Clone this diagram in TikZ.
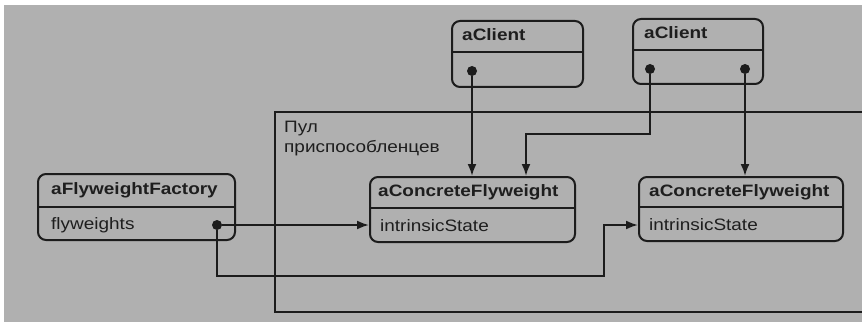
\documentclass[tikz,border=0pt]{standalone}
\usepackage{fontspec}
\setmainfont{Liberation Sans}[FakeStretch=1.15]
\usetikzlibrary{arrows.meta,positioning,calc}

\tikzset{
  objbox/.style={draw=drawColor,line width=2pt,rounded corners=8pt,inner sep=0pt},
  objsplit/.style={draw=drawColor,line width=2pt},
  objname/.style={text=textColor,anchor=west,inner sep=0pt,text height=12pt,text depth=3.5pt,
    font=\fontsize{16.5}{20}\selectfont\bfseries},
  objattr/.style={text=textColor,anchor=west,inner sep=0pt,text height=12pt,text depth=3.5pt,
    font=\fontsize{16.5}{20}\selectfont},
  refdot/.style={circle,fill=drawColor,inner sep=0pt,minimum size=10pt},
  refline/.style={draw=drawColor,line width=2pt,-{Latex[length=12pt,width=9pt]}},
}

\begin{document}
\begin{tikzpicture}[x=1pt,y=1pt]
\definecolor{paperColor}{RGB}{176,176,176}
\definecolor{drawColor}{RGB}{28,28,28}
\definecolor{textColor}{RGB}{30,30,30}
\path[use as bounding box,fill=white] (0,0) rectangle (862,322);
\path[fill=paperColor] (4,0) rectangle (862,317);

\path[draw=drawColor,line width=2pt] (862,210) -- (275,210) -- (275,10) -- (862,10);
\node[text=textColor,anchor=north west,align=left,inner sep=0pt,
  font=\fontsize{16.5}{20}\selectfont] (poolLabel) at (284,201) {Пул\\приспособленцев};

\node[objbox,minimum width=131pt,minimum height=66pt] (client1) at (517.5,268) {};
\draw[objsplit] ([yshift=-32pt]client1.north west) -- ([yshift=-32pt]client1.north east);
\node[objname] (client1Name) at ([xshift=11pt,yshift=-16pt]client1.north west) {aClient};
\node[refdot] (client1Ref) at (472,251) {};

\node[objbox,minimum width=130pt,minimum height=65pt] (client2) at (698,270.5) {};
\draw[objsplit] ([yshift=-32pt]client2.north west) -- ([yshift=-32pt]client2.north east);
\node[objname] (client2Name) at ([xshift=12pt,yshift=-16pt]client2.north west) {aClient};
\node[refdot] (client2Left) at (650,253) {};
\node[refdot] (client2Right) at (745,253) {};

\node[objbox,minimum width=197pt,minimum height=66pt] (factory) at (136.5,115) {};
\draw[objsplit] ([yshift=-34pt]factory.north west) -- ([yshift=-34pt]factory.north east);
\node[objname] (factoryName) at ([xshift=14pt,yshift=-17pt]factory.north west) {aFlyweightFactory};
\node[objattr] (factoryAttr) at ([xshift=14pt,yshift=16pt]factory.south west) {flyweights};
\node[refdot] (factoryRef) at (217,97) {};

\node[objbox,minimum width=205pt,minimum height=65pt] (cf1) at (472.5,112.5) {};
\draw[objsplit] ([yshift=-32pt]cf1.north west) -- ([yshift=-32pt]cf1.north east);
\node[objname] (cf1Name) at ([xshift=9pt,yshift=-16pt]cf1.north west) {aConcreteFlyweight};
\node[objattr] (cf1Attr) at ([xshift=11pt,yshift=16pt]cf1.south west) {intrinsicState};

\node[objbox,minimum width=204pt,minimum height=64pt] (cf2) at (741,113) {};
\draw[objsplit] ([yshift=-31pt]cf2.north west) -- ([yshift=-31pt]cf2.north east);
\node[objname] (cf2Name) at ([xshift=11pt,yshift=-16pt]cf2.north west) {aConcreteFlyweight};
\node[objattr] (cf2Attr) at ([xshift=11pt,yshift=16pt]cf2.south west) {intrinsicState};

\coordinate (client2Hop) at (526,188);
\coordinate (factoryHop) at (604,46);

\draw[refline] (client1Ref) -- (client1Ref |- cf1.north);
\draw[refline] (client2Left) |- (client2Hop) -- (client2Hop |- cf1.north);
\draw[refline] (client2Right) -- (client2Right |- cf2.north);
\draw[refline] (factoryRef) -- (factoryRef -| cf1.west);
\draw[refline] (factoryRef) |- (factoryHop) |- ([yshift=-16pt]cf2.west);
\end{tikzpicture}
\end{document}
